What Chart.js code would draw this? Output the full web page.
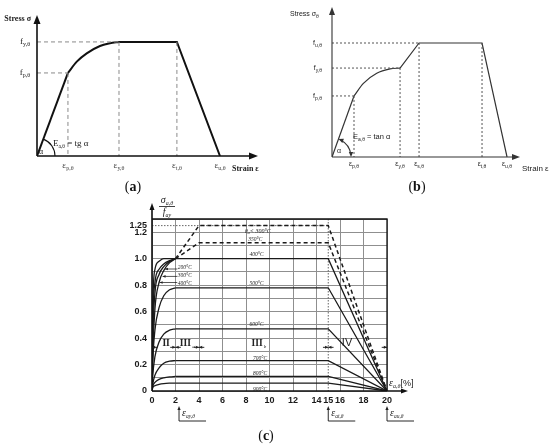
<!DOCTYPE html>
<html lang="en">
<head>
<meta charset="UTF-8" />
<title>Stress-strain relationships of steel at elevated temperature</title>
<script src="https://cdn.jsdelivr.net/npm/chart.js"></script>
<style>
  html, body { margin: 0; padding: 0; background: #fff; }
  #wrap { position: relative; width: 550px; height: 447px; }
  canvas { position: absolute; left: 0; top: 0; }
</style>
</head>
<body>
<div id="wrap">
  <canvas id="chartA" width="550" height="447"></canvas>
  <canvas id="chartB" width="550" height="447"></canvas>
  <canvas id="chartC" width="550" height="447"></canvas>
</div>
<script>
  // ---- (a) schematic, arbitrary units 0..10 ----
  const aStrainTicks = [1.40, 3.71, 6.33, 8.28];
  const aStrainLabels = ['p,θ', 'y,θ', 't,θ', 'u,θ'];
  const aStressTicks = [5.89, 8.09];
  const aStressLabels = ['p,θ', 'y,θ'];
  const aElasticX = [0, 1.40];
  const aElasticY = [0, 5.89];
  const aEllipseX = [1.40, 1.80, 2.25, 2.85, 3.30, 3.71];
  const aEllipseY = [5.89, 6.69, 7.28, 7.80, 7.99, 8.09];
  const aPlateauX = [3.71, 6.33, 8.28];
  const aPlateauY = [8.09, 8.09, 0];
  const aGuideX = [1.40, 3.71, 6.33];
  const aGuideY = [5.89, 8.09, 8.09];

  // ---- (b) schematic, arbitrary units 0..10 ----
  const bStrainTicks = [1.17, 3.62, 4.63, 7.98, 9.31];
  const bStrainLabels = ['p,θ', 'y,θ', 's,θ', 't,θ', 'u,θ'];
  const bStressTicks = [4.07, 5.93, 7.60];
  const bStressLabels = ['p,θ', 'y,θ', 'u,θ'];
  const bElasticX = [0, 1.17];
  const bElasticY = [0, 4.07];
  const bCurveX = [1.17, 1.67, 2.38, 3.09, 3.62];
  const bCurveY = [4.07, 4.91, 5.58, 5.87, 5.93];
  const bTailX = [3.62, 4.63, 7.98, 9.31];
  const bTailY = [5.93, 7.60, 7.60, 0];
  const bGuideX = [1.17, 3.62, 4.63, 7.98];
  const bGuideY = [4.07, 5.93, 7.60, 7.60];

  // ---- (c) reduction of stress vs strain [%] ----
  const cXTicks = [0, 2, 4, 6, 8, 10, 12, 14, 15, 16, 18, 20];
  const cYTicks = [0, 0.1, 0.2, 0.3, 0.4, 0.5, 0.6, 0.7, 0.8, 0.9, 1.0, 1.1, 1.2, 1.25, 1.3];
  const cYLabelVals = [0, 0.2, 0.4, 0.6, 0.8, 1.0, 1.2, 1.25];
  const cYLabelText = ['0', '0.2', '0.4', '0.6', '0.8', '1.0', '1.2', '1.25'];
  const cTemps = ['≤100°C', '200°C', '300°C', '400°C', '500°C', '600°C', '700°C', '800°C', '900°C'];
  const cRiseStrain = [0, 0.06, 0.25, 0.6, 1.0, 1.5, 2.0];
  const cRiseStress = [
    [0, 0.60, 0.92, 0.98, 1.00, 1.00, 1.00],
    [0, 0.48, 0.82, 0.92, 0.96, 0.985, 1.00],
    [0, 0.37, 0.74, 0.88, 0.94, 0.98, 1.00],
    [0, 0.25, 0.62, 0.82, 0.91, 0.97, 1.00],
    [0, 0.21, 0.46, 0.63, 0.72, 0.765, 0.78],
    [0, 0.11, 0.26, 0.37, 0.43, 0.46, 0.47],
    [0, 0.05, 0.12, 0.175, 0.21, 0.225, 0.23],
    [0, 0.035, 0.065, 0.088, 0.10, 0.107, 0.11],
    [0, 0.025, 0.04, 0.05, 0.056, 0.059, 0.06]
  ];
  const cPlateauStrain = [2, 15, 20];
  const cPlateauLevel = [1.0, 0.78, 0.47, 0.23, 0.11, 0.06];
  const cHardStrain = [2, 4, 15, 20];
  const cHard300 = [1.0, 1.25, 1.25, 0];
  const cHard350 = [1.0, 1.12, 1.12, 0];
  const cBoundaries = [0, 2, 4, 15, 20];
  const cMarkStrain = [2.3, 15, 20];
  const cMarkLabels = ['ay,θ', 'at,θ', 'au,θ'];

  const serif = '"Liberation Serif", "Times New Roman", serif';
  const sans = '"Liberation Sans", Arial, sans-serif';

  function pts(xs, ys) { return xs.map((x, i) => ({ x: x, y: ys[i] })); }
  function ds(xs, ys, color, width, dash, curved) {
    return {
      data: pts(xs, ys), showLine: true, pointRadius: 0, borderColor: color,
      borderWidth: width, borderDash: dash || [], fill: false, tension: 0,
      cubicInterpolationMode: curved ? 'monotone' : 'default'
    };
  }
  function head(ctx, x, y, ang, len, w) {
    ctx.save(); ctx.translate(x, y); ctx.rotate(ang);
    ctx.beginPath(); ctx.moveTo(0, 0); ctx.lineTo(-len, -w); ctx.lineTo(-len, w); ctx.closePath();
    ctx.fill(); ctx.restore();
  }
  function rich(ctx, parts, x, y, align) {
    ctx.textAlign = 'left'; ctx.textBaseline = 'alphabetic';
    let w = 0;
    parts.forEach(p => { ctx.font = p[1]; w += ctx.measureText(p[0]).width; });
    let cx = align === 'center' ? x - w / 2 : align === 'right' ? x - w : x;
    parts.forEach(p => { ctx.font = p[1]; ctx.fillText(p[0], cx, y + (p[2] || 0)); cx += ctx.measureText(p[0]).width; });
  }
  function hiddenScales(max) {
    return {
      x: { type: 'linear', min: 0, max: max, display: false },
      y: { type: 'linear', min: 0, max: max, display: false }
    };
  }
  const baseOpts = {
    responsive: false, animation: false, devicePixelRatio: 1,
    plugins: { legend: { display: false }, tooltip: { enabled: false } }
  };

  // ---------- (a) ----------
  const aSets = [];
  aGuideX.forEach((gx, i) => {
    aSets.push(ds([gx, gx], [aGuideY[i], 0], '#8a8a8a', 1, [4, 3]));
    if (i < 2) aSets.push(ds([0, gx], [aGuideY[i], aGuideY[i]], '#8a8a8a', 1, [4, 3]));
  });
  aSets.push(ds(aElasticX, aElasticY, '#111', 2));
  aSets.push(ds(aEllipseX, aEllipseY, '#111', 2, null, true));
  aSets.push(ds(aPlateauX, aPlateauY, '#111', 2));

  const panelA = {
    id: 'panelA',
    afterDraw(chart) {
      const { ctx, chartArea: ca, scales: { x, y } } = chart;
      const x0 = x.getPixelForValue(0), y0 = y.getPixelForValue(0);
      ctx.save();
      ctx.strokeStyle = '#111'; ctx.fillStyle = '#111'; ctx.lineWidth = 1.6;
      ctx.beginPath();
      ctx.moveTo(x0, y0); ctx.lineTo(x0, ca.top + 4);
      ctx.moveTo(x0, y0); ctx.lineTo(ca.right - 4, y0);
      ctx.stroke();
      head(ctx, x0, ca.top, -Math.PI / 2, 9, 3.5);
      head(ctx, ca.right, y0, 0, 9, 3.5);
      const ang = Math.atan2(y.getPixelForValue(aElasticY[1]) - y0, x.getPixelForValue(aElasticX[1]) - x0);
      ctx.lineWidth = 1.1;
      ctx.beginPath(); ctx.arc(x0, y0, 18, ang, 0); ctx.stroke();

      ctx.fillStyle = '#222';
      rich(ctx, [['Stress σ', `bold 8px ${serif}`]], x0 - 6, ca.top + 6, 'right');
      aStressTicks.forEach((v, i) => {
        rich(ctx, [['f', `9px ${serif}`], [aStressLabels[i], `6px ${serif}`, 2]], x0 - 7, y.getPixelForValue(v) + 2, 'right');
      });
      ctx.fillStyle = '#444';
      aStrainTicks.forEach((v, i) => {
        rich(ctx, [['ε', `9px ${serif}`], [aStrainLabels[i], `6px ${serif}`, 2]], x.getPixelForValue(v), y0 + 12, 'center');
      });
      ctx.fillStyle = '#222';
      rich(ctx, [['Strain ε', `bold 8px ${serif}`]], ca.right - 26, y0 + 15, 'left');
      rich(ctx, [['E', `9px ${serif}`], ['a,θ', `5.5px ${serif}`, 2], [' = tg α', `9px ${serif}`]], x0 + 16, y0 - 10, 'left');
      rich(ctx, [['α', `8px ${serif}`]], x0 + 2, y0 - 2, 'left');
      ctx.fillStyle = '#111';
      rich(ctx, [['(', `14px ${serif}`], ['a', `bold 14px ${serif}`], [')', `14px ${serif}`]], 133, 191, 'center');
      ctx.restore();
    }
  };

  new Chart(document.getElementById('chartA'), {
    type: 'scatter',
    data: { datasets: aSets },
    options: Object.assign({}, baseOpts, {
      layout: { padding: { left: 37, right: 292, top: 15, bottom: 291 } },
      scales: hiddenScales(10)
    }),
    plugins: [panelA]
  });

  // ---------- (b) ----------
  const bSets = [];
  bGuideX.forEach((gx, i) => {
    bSets.push(ds([gx, gx], [bGuideY[i], 0], '#555', 1, [2, 2]));
    if (i < 3) bSets.push(ds([0, gx], [bGuideY[i], bGuideY[i]], '#555', 1, [2, 2]));
  });
  bSets.push(ds(bElasticX, bElasticY, '#333', 1.2));
  bSets.push(ds(bCurveX, bCurveY, '#333', 1.2, null, true));
  bSets.push(ds(bTailX, bTailY, '#333', 1.2));

  const panelB = {
    id: 'panelB',
    afterDraw(chart) {
      const { ctx, chartArea: ca, scales: { x, y } } = chart;
      const x0 = x.getPixelForValue(0), y0 = y.getPixelForValue(0);
      ctx.save();
      ctx.strokeStyle = '#333'; ctx.fillStyle = '#333'; ctx.lineWidth = 1.1;
      ctx.beginPath();
      ctx.moveTo(x0, y0); ctx.lineTo(x0, ca.top + 4);
      ctx.moveTo(x0, y0); ctx.lineTo(ca.right - 4, y0);
      ctx.stroke();
      head(ctx, x0, ca.top, -Math.PI / 2, 8, 3);
      head(ctx, ca.right, y0, 0, 8, 3);
      const ang = Math.atan2(y.getPixelForValue(bElasticY[1]) - y0, x.getPixelForValue(bElasticX[1]) - x0);
      const r = 19;
      ctx.beginPath(); ctx.arc(x0, y0, r, ang + 0.12, -0.12); ctx.stroke();
      head(ctx, x0 + r * Math.cos(ang), y0 + r * Math.sin(ang), ang - Math.PI / 2, 5, 2.2);
      head(ctx, x0 + r, y0, Math.PI / 2, 5, 2.2);

      ctx.fillStyle = '#222';
      rich(ctx, [['Stress σ', `7px ${sans}`], ['θ', `5px ${sans}`, 2]], 290, 16, 'left');
      bStressTicks.forEach((v, i) => {
        rich(ctx, [['f', `7px ${sans}`], [bStressLabels[i], `5px ${sans}`, 2]], x0 - 10, y.getPixelForValue(v) + 2, 'right');
      });
      bStrainTicks.forEach((v, i) => {
        rich(ctx, [['ε', `7px ${sans}`], [bStrainLabels[i], `5px ${sans}`, 2]], x.getPixelForValue(v), y0 + 9, 'center');
      });
      rich(ctx, [['Strain ε', `8px ${sans}`]], ca.right + 2, y0 + 14, 'left');
      rich(ctx, [['E', `7.5px ${sans}`], ['a,θ', `5px ${sans}`, 2], [' = tan α', `7.5px ${sans}`]], x0 + 21, y0 - 18, 'left');
      rich(ctx, [['α', `7px ${sans}`]], x0 + 5, y0 - 4, 'left');
      ctx.fillStyle = '#111';
      rich(ctx, [['(', `14px ${serif}`], ['b', `bold 14px ${serif}`], [')', `14px ${serif}`]], 417, 191, 'center');
      ctx.restore();
    }
  };

  new Chart(document.getElementById('chartB'), {
    type: 'scatter',
    data: { datasets: bSets },
    options: Object.assign({}, baseOpts, {
      layout: { padding: { left: 332, right: 30, top: 7, bottom: 290 } },
      scales: hiddenScales(10)
    }),
    plugins: [panelB]
  });

  // ---------- (c) ----------
  const cSets = [];
  cRiseStress.forEach(s => cSets.push(ds(cRiseStrain, s, '#1a1a1a', 1.3, null, true)));
  cPlateauLevel.forEach(v => cSets.push(ds(cPlateauStrain, [v, v, 0], '#1a1a1a', 1.3)));
  cSets.push(ds(cHardStrain, cHard300, '#1a1a1a', 1.5, [4, 3]));
  cSets.push(ds(cHardStrain, cHard350, '#1a1a1a', 1.5, [4, 3]));

  const tickFont = { family: sans, size: 9, weight: 'bold' };
  const gridColor = '#8f8f8f';

  const panelC = {
    id: 'panelC',
    beforeDatasetsDraw(chart) {
      const { ctx, chartArea: ca, scales: { x, y } } = chart;
      ctx.save();
      ctx.strokeStyle = '#666'; ctx.lineWidth = 1; ctx.setLineDash([1.5, 1.5]);
      ctx.beginPath();
      ctx.moveTo(x.getPixelForValue(0), y.getPixelForValue(1.25));
      ctx.lineTo(x.getPixelForValue(15), y.getPixelForValue(1.25));
      ctx.moveTo(x.getPixelForValue(15), ca.top);
      ctx.lineTo(x.getPixelForValue(15), ca.bottom);
      ctx.stroke();
      ctx.restore();
    },
    afterDraw(chart) {
      const { ctx, chartArea: ca, scales: { x, y } } = chart;
      const X = v => x.getPixelForValue(v), Y = v => y.getPixelForValue(v);
      ctx.save();
      ctx.strokeStyle = '#111'; ctx.fillStyle = '#111';
      // frame
      ctx.lineWidth = 1.3;
      ctx.beginPath();
      ctx.moveTo(ca.left, ca.top); ctx.lineTo(ca.right, ca.top); ctx.lineTo(ca.right, ca.bottom);
      ctx.stroke();
      // axes with arrows
      ctx.lineWidth = 1.6;
      ctx.beginPath();
      ctx.moveTo(ca.left, ca.bottom); ctx.lineTo(ca.left, ca.top - 13);
      ctx.moveTo(ca.left, ca.bottom); ctx.lineTo(ca.right + 17, ca.bottom);
      ctx.stroke();
      head(ctx, ca.left, ca.top - 16, -Math.PI / 2, 7, 2.5);
      head(ctx, ca.right + 21, ca.bottom, 0, 7, 2.5);

      // y-axis title as a fraction
      ctx.fillStyle = '#222';
      rich(ctx, [['σ', `italic 10px ${serif}`], ['a,θ', `italic 6px ${serif}`, 2]], ca.left + 15, ca.top - 16, 'center');
      ctx.lineWidth = 0.8;
      ctx.beginPath(); ctx.moveTo(ca.left + 7, ca.top - 12.5); ctx.lineTo(ca.left + 23, ca.top - 12.5); ctx.stroke();
      rich(ctx, [['f', `italic 10px ${serif}`], ['ay', `italic 6px ${serif}`, 2]], ca.left + 15, ca.top - 4, 'center');
      // x-axis title
      rich(ctx, [['ε', `italic 10px ${serif}`], ['a,θ', `italic 6px ${serif}`, 2], ['[%]', `9px ${sans}`]], ca.right + 2, ca.bottom - 5, 'left');

      // temperature labels
      const tf = `italic 5.5px ${serif}`;
      const mid = (parts, vx, vy, align) => rich(ctx, parts, typeof vx === 'number' ? X(vx) : vx, Y(vy) + 2, align);
      mid([['θ', `italic 6px ${serif}`], ['a', `italic 4.5px ${serif}`, 1.5], ['< 300°C', `italic 6px ${serif}`]], 9.0, 1.21, 'center');
      mid([['350°C', tf]], 8.8, 1.15, 'center');
      mid([['400°C', tf]], 8.9, 1.035, 'center');
      mid([['500°C', tf]], 8.9, 0.815, 'center');
      mid([['600°C', tf]], 8.9, 0.51, 'center');
      mid([['700°C', tf]], 9.2, 0.25, 'center');
      mid([['800°C', tf]], 9.2, 0.135, 'center');
      mid([['900°C', tf]], 9.2, 0.017, 'center');
      mid([[cTemps[0], tf]], ca.left + 2, 1.045, 'left');
      mid([[cTemps[1], tf]], 2.2, 0.937, 'left');
      mid([[cTemps[2], tf]], 2.2, 0.875, 'left');
      mid([[cTemps[3], tf]], 2.2, 0.815, 'left');
      // leaders to the small-strain curves
      ctx.lineWidth = 0.7;
      [[1.1, 0.922], [0.9, 0.866], [0.65, 0.82]].forEach(l => {
        ctx.beginPath(); ctx.moveTo(X(2.15), Y(l[1])); ctx.lineTo(X(l[0]), Y(l[1])); ctx.stroke();
        head(ctx, X(l[0]), Y(l[1]), Math.PI, 3, 1.3);
      });

      // region markers
      const ry = Y(0.33);
      ctx.lineWidth = 0.9;
      cBoundaries.forEach(b => {
        if (b > 0) {
          ctx.beginPath(); ctx.moveTo(X(b - 0.45), ry); ctx.lineTo(X(b), ry); ctx.stroke();
          head(ctx, X(b), ry, 0, 3.2, 1.5);
        }
        if (b < 20) {
          ctx.beginPath(); ctx.moveTo(X(b + 0.45), ry); ctx.lineTo(X(b), ry); ctx.stroke();
          head(ctx, X(b), ry, Math.PI, 3.2, 1.5);
        }
      });
      const rf = `bold 9.5px ${serif}`;
      rich(ctx, [['II', rf]], X(1.2), Y(0.37) + 4, 'center');
      rich(ctx, [['III', rf], [' a', `italic 5px ${serif}`, 2]], X(3.0), Y(0.37) + 4, 'center');
      rich(ctx, [['III', rf], [' b', `italic 5px ${serif}`, 2]], X(9.1), Y(0.37) + 4, 'center');
      rich(ctx, [['IV', `11px ${sans}`]], X(16.6), Y(0.37) + 4, 'center');

      // strain limit markers below the axis
      ctx.lineWidth = 0.9;
      cMarkStrain.forEach((v, i) => {
        const px = X(v);
        ctx.beginPath(); ctx.moveTo(px, 421); ctx.lineTo(px, 409); ctx.moveTo(px, 421); ctx.lineTo(px + 27, 421); ctx.stroke();
        head(ctx, px, 406, -Math.PI / 2, 4, 1.6);
        rich(ctx, [['ε', `italic 10px ${serif}`], [cMarkLabels[i], `italic 5.5px ${serif}`, 2]], px + 3, 416, 'left');
      });

      ctx.fillStyle = '#111';
      rich(ctx, [['(', `14px ${serif}`], ['c', `bold 14px ${serif}`], [')', `14px ${serif}`]], 266, 440, 'center');
      ctx.restore();
    }
  };

  new Chart(document.getElementById('chartC'), {
    type: 'scatter',
    data: { datasets: cSets },
    options: Object.assign({}, baseOpts, {
      layout: { padding: { left: 112, right: 163, top: 219, bottom: 36 } },
      scales: {
        x: {
          type: 'linear', min: 0, max: 20,
          afterBuildTicks: s => { s.ticks = cXTicks.map(v => ({ value: v })); },
          afterFit: s => { s.height = 20; },
          border: { display: false },
          grid: { drawTicks: false, lineWidth: 1, color: c => (c.tick && c.tick.value === 15) ? 'rgba(0,0,0,0)' : gridColor },
          ticks: { autoSkip: false, maxRotation: 0, padding: 4, color: '#1a1a1a', font: tickFont, callback: v => String(v) }
        },
        y: {
          type: 'linear', min: 0, max: 1.3,
          afterBuildTicks: s => { s.ticks = cYTicks.map(v => ({ value: v })); },
          afterFit: s => { s.width = 40; },
          border: { display: false },
          grid: { drawTicks: false, lineWidth: 1, color: c => (c.tick && c.tick.value === 1.25) ? 'rgba(0,0,0,0)' : gridColor },
          ticks: {
            autoSkip: false, padding: 5, color: '#1a1a1a', font: tickFont,
            callback: v => {
              const i = cYLabelVals.findIndex(t => Math.abs(t - v) < 1e-6);
              return i >= 0 ? cYLabelText[i] : '';
            }
          }
        }
      }
    }),
    plugins: [panelC]
  });
</script>
</body>
</html>
